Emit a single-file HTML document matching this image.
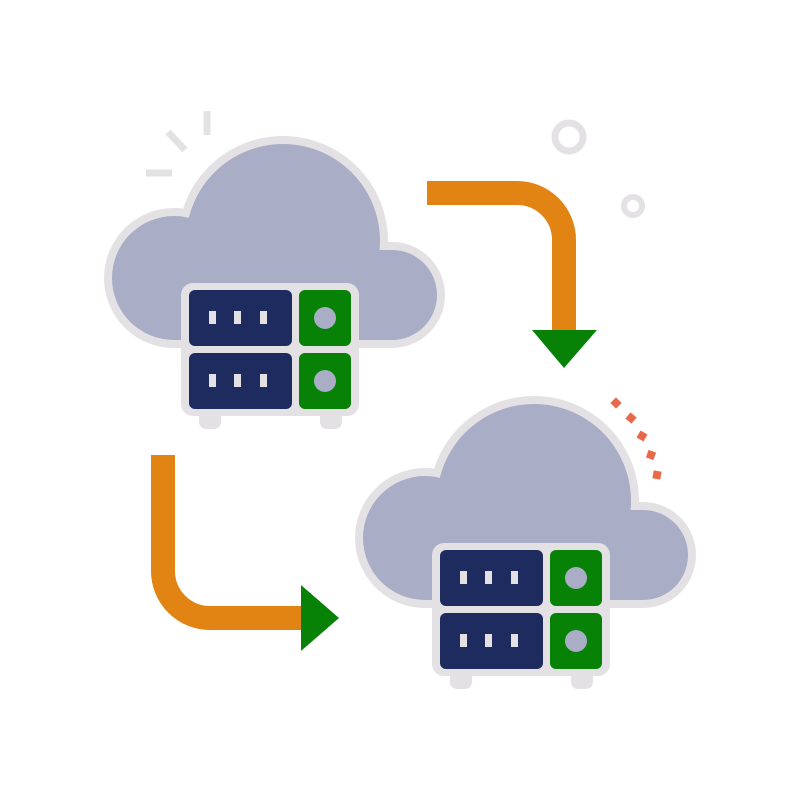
<!DOCTYPE html>
<html><head><style>html,body{margin:0;padding:0;background:#fff}svg{display:block}</style></head>
<body>
<svg width="800" height="800" viewBox="0 0 800 800" xmlns="http://www.w3.org/2000/svg">
<defs>
<g id="unit">
  <g fill="#e4e1e5" stroke="#e4e1e5" stroke-width="16" stroke-linejoin="round">
    <circle cx="283" cy="241" r="97"/>
    <circle cx="174" cy="278" r="62"/>
    <circle cx="392" cy="295" r="45"/>
    <rect x="174" y="250" width="218" height="90"/>
  </g>
  <g fill="#a9adc5">
    <circle cx="283" cy="241" r="97"/>
    <circle cx="174" cy="278" r="62"/>
    <circle cx="392" cy="295" r="45"/>
    <rect x="174" y="250" width="218" height="90"/>
  </g>
  <rect x="199" y="405" width="22" height="24" rx="7" fill="#e4e1e5"/>
  <rect x="320" y="405" width="22" height="24" rx="7" fill="#e4e1e5"/>
  <rect x="181" y="283" width="178" height="133" rx="12" fill="#e4e1e5"/>
  <rect x="189" y="290" width="103" height="56" rx="6" fill="#1e2b5e"/>
  <rect x="189" y="353" width="103" height="56" rx="6" fill="#1e2b5e"/>
  <rect x="299" y="290" width="52" height="56" rx="6" fill="#078207"/>
  <rect x="299" y="353" width="52" height="56" rx="6" fill="#078207"/>
  <g fill="#e4e1e5">
    <rect x="209" y="311" width="7" height="13"/><rect x="234" y="311" width="7" height="13"/><rect x="260" y="311" width="7" height="13"/>
    <rect x="209" y="374" width="7" height="13"/><rect x="234" y="374" width="7" height="13"/><rect x="260" y="374" width="7" height="13"/>
  </g>
  <circle cx="325" cy="318" r="11" fill="#a9adc5"/>
  <circle cx="325" cy="381" r="11" fill="#a9adc5"/>
</g>
</defs>
<use href="#unit"/>
<use href="#unit" transform="translate(251,260)"/>
<g stroke="#e4e1e5" stroke-width="7" fill="none">
  <line x1="207" y1="111" x2="207" y2="135"/>
  <line x1="168" y1="132" x2="185" y2="150"/>
  <line x1="146" y1="173" x2="172" y2="173"/>
  <circle cx="569" cy="137" r="14" stroke-width="7"/>
  <circle cx="633" cy="206" r="9" stroke-width="6"/>
</g>
<g fill="#e8694a">
  <rect x="-4" y="-4" width="8" height="8" transform="translate(616,403) rotate(45)"/>
  <rect x="-4" y="-4" width="8" height="8" transform="translate(631,418) rotate(40)"/>
  <rect x="-4" y="-4" width="8" height="8" transform="translate(642,436) rotate(30)"/>
  <rect x="-4" y="-4" width="8" height="8" transform="translate(651,455) rotate(20)"/>
  <rect x="-4" y="-4" width="8" height="8" transform="translate(657,475) rotate(10)"/>
</g>
<path d="M427 193 H517 A47 47 0 0 1 564 240 V332" stroke="#e28413" stroke-width="24" fill="none"/>
<polygon points="532,330 597,330 564,368" fill="#078207"/>
<path d="M163 455 V571 A47 47 0 0 0 210 618 H303" stroke="#e28413" stroke-width="24" fill="none"/>
<polygon points="301,585 301,651 339,618" fill="#078207"/>
</svg>
</body></html>
